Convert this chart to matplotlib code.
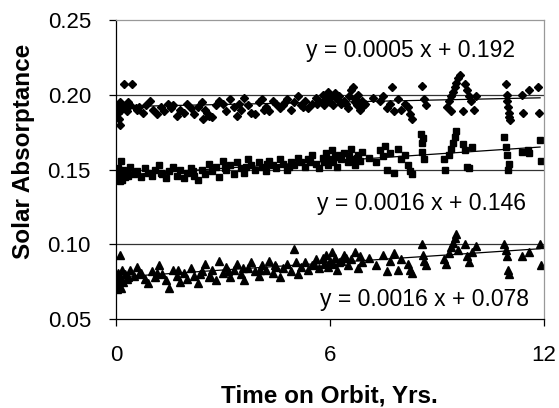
import numpy as np
import matplotlib
matplotlib.use('Agg')
import matplotlib.pyplot as plt

plt.rcParams['font.family'] = ['Liberation Sans', 'DejaVu Sans']

# diamonds (upper series)
x_dia = [0.03, 0.05, 0.08, 0.10, 0.12, 0.15, 0.18, 0.22, 0.25, 0.30, 0.40, 0.45, 0.55, 0.65, 0.75,
         0.85, 0.95, 1.05, 1.15, 1.25, 1.35, 1.45, 1.55, 1.70, 1.80, 1.90, 2.00, 2.10, 2.20, 2.30,
         2.40, 2.50, 2.60, 2.70, 2.80, 2.90, 3.00, 3.10, 3.20, 3.30, 3.40, 3.50, 3.60, 3.70, 3.80,
         3.90, 4.00, 4.10, 4.20, 4.30, 4.40, 4.50, 4.60, 4.70, 4.80, 4.90, 5.00, 5.10, 5.20, 5.30,
         5.40, 5.50, 5.60, 5.70, 5.80, 5.85, 5.90, 5.95, 6.00, 6.05, 6.10, 6.15, 6.20, 6.30, 6.40,
         6.50, 6.55, 6.60, 6.65, 6.70, 6.75, 6.80, 6.85, 6.90, 7.00, 7.20, 7.40, 7.50, 7.60, 7.70,
         7.75, 7.80, 7.90, 8.00, 8.10, 8.20, 8.25, 8.30, 8.60, 8.65, 8.70, 9.30, 9.35, 9.40, 9.45,
         9.50, 9.55, 9.60, 9.65, 9.40, 9.80, 9.85, 9.90, 9.95, 9.75, 10.10, 10.05, 10.95, 10.97, 10.98,
         11.00, 11.02, 11.03, 11.05, 11.40, 11.42, 11.60, 11.85, 11.88,
         0.35, 0.60, 1.60, 2.45, 2.55, 3.45, 4.15, 4.75, 5.25, 5.65, 6.25, 6.45, 6.72, 6.95]
y_dia = [0.192, 0.188, 0.184, 0.180, 0.195, 0.190, 0.193, 0.207, 0.192, 0.189, 0.193, 0.207, 0.191, 0.192, 0.188,
         0.193, 0.196, 0.190, 0.187, 0.192, 0.189, 0.194, 0.191, 0.186, 0.190, 0.188, 0.194, 0.191, 0.187, 0.192,
         0.195, 0.190, 0.186, 0.185, 0.193, 0.196, 0.194, 0.189, 0.197, 0.192, 0.186, 0.190, 0.198, 0.193, 0.188,
         0.187, 0.195, 0.197, 0.192, 0.189, 0.196, 0.194, 0.191, 0.193, 0.197, 0.190, 0.195, 0.199, 0.193, 0.196,
         0.191, 0.194, 0.198, 0.196, 0.200, 0.193, 0.197, 0.202, 0.195, 0.199, 0.193, 0.201, 0.197, 0.194, 0.196,
         0.191, 0.199, 0.203, 0.205, 0.197, 0.193, 0.200, 0.190, 0.196, 0.194, 0.198, 0.196, 0.199, 0.191, 0.194,
         0.205, 0.189, 0.197, 0.190, 0.194, 0.192, 0.187, 0.184, 0.206, 0.197, 0.193, 0.192, 0.196, 0.199, 0.202,
         0.205, 0.208, 0.211, 0.213, 0.189, 0.207, 0.203, 0.199, 0.196, 0.189, 0.199, 0.190, 0.207, 0.200, 0.196,
         0.192, 0.188, 0.185, 0.183, 0.200, 0.188, 0.203, 0.205, 0.188,
         0.195, 0.190, 0.193, 0.184, 0.188, 0.194, 0.190, 0.195, 0.192, 0.194, 0.199, 0.194, 0.195, 0.193]

# squares (middle series)
x_sq = [0.02, 0.04, 0.06, 0.08, 0.10, 0.12, 0.14, 0.16, 0.18, 0.20, 0.25, 0.30, 0.40, 0.50, 0.60,
        0.70, 0.80, 0.90, 1.00, 1.10, 1.20, 1.30, 1.40, 1.50, 1.60, 1.70, 1.80, 1.90, 2.00, 2.10,
        2.20, 2.30, 2.40, 2.50, 2.60, 2.70, 2.80, 2.90, 3.00, 3.10, 3.20, 3.30, 3.40, 3.50, 3.60,
        3.70, 3.80, 3.90, 4.00, 4.10, 4.20, 4.30, 4.40, 4.50, 4.60, 4.70, 4.80, 4.90, 5.00, 5.10,
        5.20, 5.30, 5.40, 5.50, 5.60, 5.70, 5.80, 5.85, 5.90, 5.95, 6.00, 6.05, 6.10, 6.15, 6.20,
        6.30, 6.40, 6.50, 6.55, 6.60, 6.65, 6.70, 6.80, 6.85, 6.90, 7.10, 7.30, 7.40, 7.50, 7.55,
        7.60, 7.70, 7.80, 7.90, 8.00, 8.10, 8.20, 8.25, 8.30, 8.55, 8.58, 8.60, 8.65, 9.20, 9.24,
        9.35, 9.40, 9.45, 9.50, 9.55, 9.75, 9.80, 9.85, 9.90, 10.00, 10.90, 10.95, 10.97, 11.00, 11.02,
        11.40, 11.55, 11.60, 11.90, 11.92,
        0.05, 0.09, 0.13, 0.22, 0.35, 1.25, 2.15, 3.05, 3.65, 4.25, 4.85, 5.45, 6.25, 6.75, 8.62]
y_sq = [0.143, 0.147, 0.151, 0.145, 0.142, 0.149, 0.156, 0.146, 0.143, 0.150, 0.145, 0.148, 0.152, 0.147, 0.149,
        0.145, 0.151, 0.148, 0.146, 0.150, 0.153, 0.147, 0.144, 0.149, 0.152, 0.146, 0.150, 0.144, 0.148, 0.151,
        0.146, 0.143, 0.150, 0.147, 0.154, 0.149, 0.152, 0.145, 0.156, 0.150, 0.153, 0.147, 0.155, 0.151, 0.148,
        0.157, 0.153, 0.150, 0.155, 0.152, 0.149, 0.156, 0.153, 0.151, 0.157, 0.154, 0.150, 0.155, 0.153, 0.158,
        0.155, 0.152, 0.157, 0.160, 0.154, 0.151, 0.158, 0.155, 0.161, 0.153, 0.157, 0.163, 0.155, 0.159, 0.152,
        0.157, 0.161, 0.155, 0.159, 0.164, 0.157, 0.153, 0.160, 0.156, 0.162, 0.158, 0.155, 0.163, 0.159, 0.166,
        0.150, 0.161, 0.148, 0.164, 0.157, 0.160, 0.153, 0.149, 0.147, 0.174, 0.168, 0.162, 0.157, 0.157, 0.150,
        0.160, 0.164, 0.168, 0.172, 0.176, 0.167, 0.163, 0.152, 0.151, 0.165, 0.172, 0.165, 0.160, 0.150, 0.154,
        0.162, 0.163, 0.161, 0.170, 0.156,
        0.144, 0.148, 0.145, 0.147, 0.146, 0.148, 0.149, 0.151, 0.152, 0.154, 0.152, 0.155, 0.160, 0.158, 0.171]

# triangles (lower series)
x_tri = [0.02, 0.04, 0.06, 0.08, 0.10, 0.12, 0.15, 0.20, 0.25, 0.30, 0.40, 0.50, 0.60, 0.70, 0.80,
         0.90, 1.00, 1.10, 1.20, 1.30, 1.40, 1.50, 1.60, 1.70, 1.80, 1.90, 2.00, 2.10, 2.20, 2.30,
         2.40, 2.50, 2.60, 2.70, 2.80, 2.90, 3.00, 3.10, 3.20, 3.30, 3.40, 3.50, 3.60, 3.70, 3.80,
         3.90, 4.00, 4.10, 4.20, 4.30, 4.40, 4.50, 4.60, 4.70, 4.80, 4.90, 5.00, 5.10, 5.20, 5.30,
         5.40, 5.50, 5.60, 5.70, 5.80, 5.85, 5.90, 5.95, 6.00, 6.05, 6.10, 6.15, 6.20, 6.30, 6.40,
         6.50, 6.60, 6.70, 6.80, 6.90, 7.10, 7.30, 7.50, 7.60, 7.70, 7.80, 7.90, 8.00, 8.20, 8.25,
         8.30, 8.60, 8.62, 8.65, 8.70, 9.20, 9.25, 9.35, 9.40, 9.45, 9.50, 9.55, 9.60, 9.80, 9.85,
         9.90, 10.00, 10.10, 10.90, 10.95, 10.97, 11.00, 11.02, 11.40, 11.60, 11.90, 11.92,
         0.05, 0.18, 0.35, 0.65, 1.15, 1.75, 2.35, 2.65, 3.15, 3.55, 4.05, 4.45, 5.05, 5.55, 6.25, 6.45, 6.85]
y_tri = [0.070, 0.076, 0.081, 0.073, 0.093, 0.078, 0.071, 0.075, 0.080, 0.077, 0.083, 0.079, 0.085, 0.081, 0.077,
         0.074, 0.082, 0.078, 0.086, 0.080, 0.076, 0.071, 0.083, 0.079, 0.075, 0.081, 0.077, 0.084, 0.079, 0.074,
         0.082, 0.087, 0.078, 0.083, 0.076, 0.089, 0.081, 0.085, 0.078, 0.083, 0.087, 0.080, 0.076, 0.084, 0.088,
         0.082, 0.079, 0.086, 0.083, 0.089, 0.081, 0.085, 0.078, 0.084, 0.087, 0.082, 0.097, 0.080, 0.085, 0.088,
         0.083, 0.086, 0.090, 0.084, 0.091, 0.087, 0.093, 0.085, 0.089, 0.095, 0.087, 0.091, 0.083, 0.089, 0.093,
         0.086, 0.090, 0.095, 0.084, 0.088, 0.091, 0.086, 0.093, 0.082, 0.089, 0.094, 0.083, 0.090, 0.087, 0.083,
         0.081, 0.100, 0.093, 0.089, 0.086, 0.090, 0.087, 0.094, 0.098, 0.101, 0.104, 0.107, 0.096, 0.100, 0.092,
         0.088, 0.095, 0.099, 0.100, 0.096, 0.092, 0.083, 0.080, 0.092, 0.095, 0.100, 0.086,
         0.079, 0.083, 0.078, 0.080, 0.081, 0.083, 0.080, 0.079, 0.082, 0.084, 0.083, 0.086, 0.088, 0.087, 0.088, 0.091, 0.092]

# linear trend fits (slope, intercept) and equation labels
fits = [(0.0005, 0.192), (0.0016, 0.146), (0.0016, 0.078)]
fit_labels = ['y = 0.0005 x + 0.192', 'y = 0.0016 x + 0.146', 'y = 0.0016 x + 0.078']

fig = plt.figure(figsize=(5.59, 4.08), dpi=100)
ax = fig.add_axes([0.2075, 0.218, 0.765, 0.733])

ax.plot(x_dia, y_dia, linestyle='None', marker='D', markersize=4.0, color='black')
ax.plot(x_sq, y_sq, linestyle='None', marker='s', markersize=4.3, color='black')
ax.plot(x_tri, y_tri, linestyle='None', marker='^', markersize=5.4, color='black')

# trend lines
xt = np.array([0.0, 11.9])
for m, b in fits:
    ax.plot(xt, m * xt + b, color='black', linewidth=0.9)

# equation labels
ax.text(11.2, 0.2299, fit_labels[0], ha='right', va='center', fontsize=16.5)
ax.text(11.5, 0.1272, fit_labels[1], ha='right', va='center', fontsize=16.5)
ax.text(11.58, 0.0634, fit_labels[2], ha='right', va='center', fontsize=16.5)

# horizontal gridlines
for g in [0.10, 0.15, 0.20]:
    ax.axhline(g, color='#333333', linewidth=0.9, zorder=0)

ax.set_xlim(0, 12)
ax.set_ylim(0.05, 0.25)
ax.set_xticks([0, 6, 12])
ax.set_yticks([0.05, 0.10, 0.15, 0.20, 0.25])
ax.set_yticklabels(['0.05', '0.10', '0.15', '0.20', '0.25'])
ax.tick_params(axis='both', direction='out', length=5, width=0.9, labelsize=16)
ax.tick_params(axis='y', pad=13)
ax.tick_params(axis='x', pad=14)

ax.spines['left'].set_color('black')
ax.spines['bottom'].set_color('black')
ax.spines['top'].set_color('#999999')
ax.spines['right'].set_color('#999999')
for s in ax.spines.values():
    s.set_linewidth(0.9)

ax.set_xlabel('Time on Orbit, Yrs.', fontsize=17.5, fontweight='bold')
ax.set_ylabel('Solar Absorptance', fontsize=17.5, fontweight='bold')
ax.xaxis.set_label_coords(0.5, -0.22)
ax.yaxis.set_label_coords(-0.19, 0.56)

fig.savefig('out.png', dpi=100, facecolor='white')
